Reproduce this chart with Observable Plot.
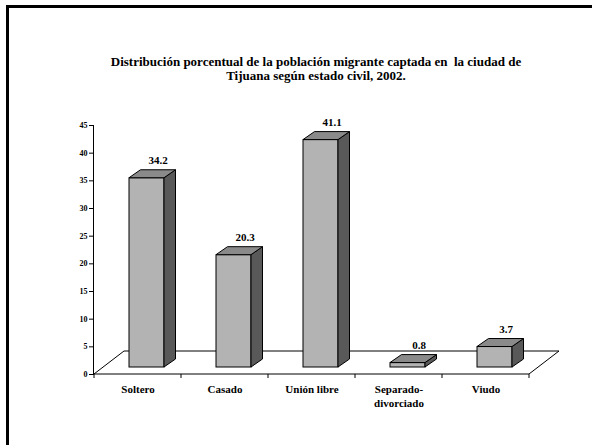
<!DOCTYPE html>
<html>
<head>
<meta charset="utf-8">
<script src="https://cdn.jsdelivr.net/npm/d3@7"></script>
<script src="https://cdn.jsdelivr.net/npm/@observablehq/plot@0.6"></script>
<style>
  html, body { margin: 0; padding: 0; background: #fff; }
  #wrap { position: relative; width: 592px; height: 445px; overflow: hidden; }
  #frame { position: absolute; left: 6px; top: 5px; width: 600px; height: 460px;
           border-left: 3px solid #000; border-top: 3px solid #000; box-sizing: border-box; }
  #title { position: absolute; left: 0; width: 632px; top: 55px; text-align: center;
           font-family: "Liberation Serif", "Times New Roman", Times, serif; font-weight: bold;
           font-size: 13px; line-height: 14px; color: #000; }
  #chart { position: absolute; left: 0; top: 0; }
</style>
</head>
<body>
<div id="wrap">
  <div id="chart"></div>
  <div id="frame"></div>
  <div id="title">Distribución porcentual de la población migrante captada en&nbsp; la ciudad de<br>Tijuana según estado civil, 2002.</div>
</div>
<script>
const categories = ["Soltero", "Casado", "Unión libre", "Separado-\ndivorciado", "Viudo"];
const values = [34.2, 20.3, 41.1, 0.8, 3.7];
const valueLabels = ["34.2", "20.3", "41.1", "0.8", "3.7"];
const yTicks = [0, 5, 10, 15, 20, 25, 30, 35, 40, 45];

const data = categories.map((c, i) => ({cat: c, value: values[i], label: valueLabels[i]}));

// 3D look (pixel offsets)
const floorDX = 30, floorDY = -23;
const barDX = 9, barDY = -7;
const depthDX = 11.5, depthDY = -8;
const inset = 26;

function floorMark(index, scales) {
  const x = scales.x, y = scales.y;
  const bw = x.bandwidth();
  const x0 = x(categories[0]);
  const x1 = x(categories[categories.length - 1]) + bw;
  const y0 = y(0);
  const ns = "http://www.w3.org/2000/svg";
  const g = document.createElementNS(ns, "g");
  const poly = document.createElementNS(ns, "path");
  poly.setAttribute("d", `M${x0},${y0}L${x1},${y0}L${x1 + floorDX},${y0 + floorDY}L${x0 + floorDX},${y0 + floorDY}Z`);
  poly.setAttribute("fill", "#fff");
  poly.setAttribute("stroke", "#000");
  poly.setAttribute("stroke-width", 1);
  g.appendChild(poly);
  // category boundary ticks
  const bounds = [x0, ...categories.map(c => x(c) + bw)];
  for (const bx of bounds) {
    const t = document.createElementNS(ns, "line");
    t.setAttribute("x1", bx); t.setAttribute("x2", bx);
    t.setAttribute("y1", y0); t.setAttribute("y2", y0 + 4);
    t.setAttribute("stroke", "#000");
    g.appendChild(t);
  }
  return g;
}

function barSides(index, scales) {
  const x = scales.x, y = scales.y;
  const bw = x.bandwidth();
  const ns = "http://www.w3.org/2000/svg";
  const g = document.createElementNS(ns, "g");
  g.setAttribute("stroke", "#000");
  g.setAttribute("stroke-width", 1);
  g.setAttribute("stroke-linejoin", "miter");
  for (const d of data) {
    const L = x(d.cat) + inset + barDX;
    const R = x(d.cat) + bw - inset + barDX;
    const B = y(0) + barDY;
    const T = y(d.value) + barDY;
    const side = document.createElementNS(ns, "path");
    side.setAttribute("d", `M${R},${B}L${R + depthDX},${B + depthDY}L${R + depthDX},${T + depthDY}L${R},${T}Z`);
    side.setAttribute("fill", "#595959");
    g.appendChild(side);
    const top = document.createElementNS(ns, "path");
    top.setAttribute("d", `M${L},${T}L${R},${T}L${R + depthDX},${T + depthDY}L${L + depthDX},${T + depthDY}Z`);
    top.setAttribute("fill", "#8a8a8a");
    g.appendChild(top);
  }
  return g;
}

const chart = Plot.plot({
  width: 592,
  height: 445,
  marginLeft: 93,
  marginRight: 63,
  marginTop: 125,
  marginBottom: 71,
  style: {fontFamily: "'Liberation Serif', 'Times New Roman', Times, serif", fontWeight: "bold", fontSize: "8px", color: "#000", background: "transparent"},
  x: {domain: categories, padding: 0, axis: null},
  y: {domain: [0, 45], ticks: yTicks, tickFormat: d => String(d), tickSize: 4, tickPadding: 2, line: true, label: null},
  marks: [
    floorMark,
    Plot.barY(data, {x: "cat", y: "value", fill: "#b3b3b3", stroke: "#000", strokeWidth: 1,
      insetLeft: inset, insetRight: inset, dx: barDX, dy: barDY}),
    barSides,
    Plot.text(data, {x: "cat", y: "value", text: "label", fontSize: 11, fontWeight: "bold",
      dx: 20, dy: barDY + depthDY - 10, fill: "#000"}),
    Plot.text(data, {x: "cat", y: () => 0, text: "cat", fontSize: 11, fontWeight: "bold",
      lineAnchor: "top", dy: 8, lineHeight: 1.3, fill: "#000"})
  ]
});

document.getElementById("chart").appendChild(chart);
</script>
</body>
</html>
